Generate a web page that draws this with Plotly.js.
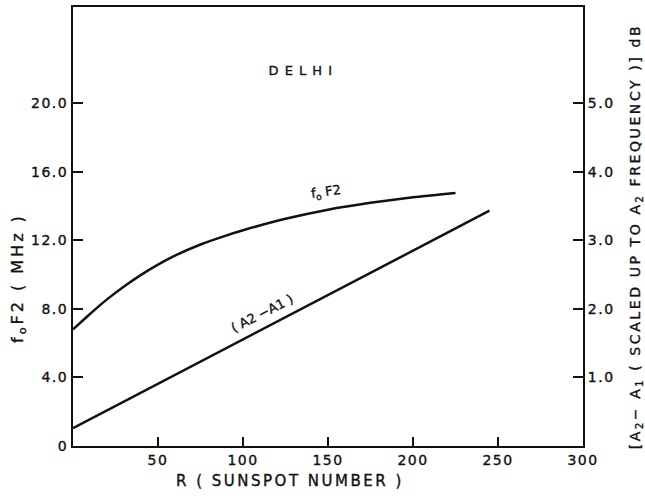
<!DOCTYPE html>
<html>
<head>
<meta charset="utf-8">
<script src="https://cdn.plot.ly/plotly-3.0.1.min.js"></script>
<style>
html,body{margin:0;padding:0;background:#fff;}
#chart{width:645px;height:500px;}
#chart .xtick text, #chart .ytick text, #chart .y2tick text {letter-spacing: 1.5px; stroke:#111; stroke-width:0.35px;}
#chart .annotation-text {stroke:#111; stroke-width:0.35px;}
#chart g.annotation[data-index="0"] text {letter-spacing: 1px;}
#chart g.annotation[data-index="3"] text {letter-spacing: 2.5px;}
#chart g.annotation[data-index="4"] text {letter-spacing: 3px;}
#chart g.annotation[data-index="5"] text {letter-spacing: 2.6px;}
</style>
</head>
<body>
<div id="chart"></div>
<script>
// Sunspot number R
var foF2_R = [0, 10, 20, 30, 40, 50, 60, 75, 90, 100, 125, 150, 175, 200, 225];
// foF2 (MHz), left axis
var foF2_MHz = [6.8, 7.7, 8.55, 9.3, 9.98, 10.58, 11.1, 11.75, 12.27, 12.58, 13.25, 13.78, 14.18, 14.5, 14.75];
// A2-A1 (dB), right axis
var diff_R = [0, 100, 200, 245];
var diff_dB = [0.26, 1.55, 2.85, 3.43];

var xTickVals = [50, 100, 150, 200, 250, 300];
var xTickText = ['50', '100', '150', '200', '250', '300'];
var yTickVals = [0, 4, 8, 12, 16, 20];
var yTickText = ['0', '4.0', '8.0', '12.0', '16.0', '20.0'];
var y2TickVals = [1, 2, 3, 4, 5];
var y2TickText = ['1.0', '2.0', '3.0', '4.0', '5.0'];

var FONT = 'DejaVu Sans, Liberation Sans, sans-serif';
var INK = '#111';

// plot area in pixels: x 73..583, y 7..446
function px(xp) { return (xp - 73) / 510; }
function py(yp) { return (446 - yp) / 439; }

var traces = [
  {x: foF2_R, y: foF2_MHz, type: 'scatter', mode: 'lines', line: {color: INK, width: 2.5, shape: 'spline', smoothing: 0.6}, yaxis: 'y', hoverinfo: 'skip'},
  {x: diff_R, y: diff_dB, type: 'scatter', mode: 'lines', line: {color: INK, width: 2.5}, yaxis: 'y2', hoverinfo: 'skip'}
];

var layout = {
  width: 645, height: 500,
  margin: {l: 73, r: 62, t: 7, b: 54},
  paper_bgcolor: '#fff', plot_bgcolor: '#fff',
  showlegend: false,
  font: {family: FONT, color: INK, size: 14},
  xaxis: {
    range: [0, 300], showgrid: false, zeroline: false,
    showline: true, linecolor: INK, linewidth: 2, mirror: true,
    ticks: 'inside', ticklen: 9, tickwidth: 2, tickcolor: INK,
    tickvals: xTickVals, ticktext: xTickText,
    tickfont: {family: FONT, size: 14, color: INK}
  },
  yaxis: {
    range: [0, 25.6], showgrid: false, zeroline: false,
    showline: true, linecolor: INK, linewidth: 2,
    ticks: 'inside', ticklen: 10, tickwidth: 2, tickcolor: INK,
    tickvals: yTickVals, ticktext: yTickText,
    tickfont: {family: FONT, size: 14, color: INK}
  },
  yaxis2: {
    range: [0, 6.4], overlaying: 'y', side: 'right',
    showgrid: false, zeroline: false,
    showline: true, linecolor: INK, linewidth: 2,
    ticks: 'inside', ticklen: 10, tickwidth: 2, tickcolor: INK,
    tickvals: y2TickVals, ticktext: y2TickText,
    tickfont: {family: FONT, size: 14, color: INK}
  },
  annotations: [
    {x: 134, y: 21.9, xref: 'x', yref: 'y', text: 'D E L H I', showarrow: false, font: {family: FONT, size: 13, color: INK}},
    {x: 149, y: 14.8, xref: 'x', yref: 'y', text: 'f<sub>o</sub> F2', showarrow: false, textangle: -8, font: {family: FONT, size: 13, color: INK}},
    {x: 111, y: 7.75, xref: 'x', yref: 'y', text: '( A2 −A1 )', showarrow: false, textangle: -27, font: {family: FONT, size: 13, color: INK}},
    {x: px(290), y: py(481), xref: 'paper', yref: 'paper', xanchor: 'center', yanchor: 'middle', text: 'R ( SUNSPOT NUMBER )', showarrow: false, font: {family: FONT, size: 15, color: INK}},
    {x: px(18), y: py(278), xref: 'paper', yref: 'paper', xanchor: 'center', yanchor: 'middle', textangle: -90, text: 'f<sub>o</sub>F2 ( MHz )', showarrow: false, font: {family: FONT, size: 16, color: INK}},
    {x: px(636), y: py(237), xref: 'paper', yref: 'paper', xanchor: 'center', yanchor: 'middle', textangle: -90, text: '[A<sub>2</sub>− A<sub>1</sub> ( SCALED UP TO A<sub>2</sub> FREQUENCY )] dB', showarrow: false, font: {family: FONT, size: 14, color: INK}}
  ]
};

Plotly.newPlot('chart', traces, layout, {displayModeBar: false, staticPlot: true});
</script>
</body>
</html>
